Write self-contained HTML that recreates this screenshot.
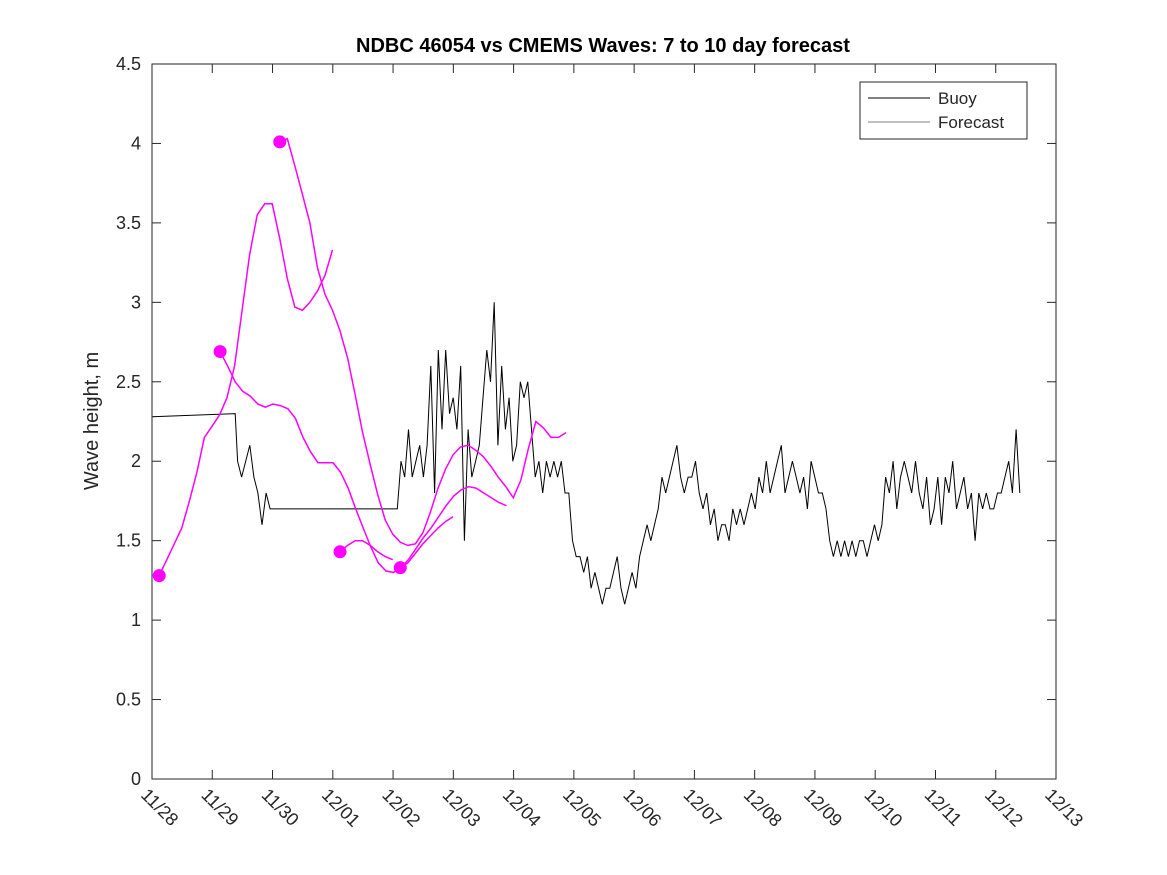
<!DOCTYPE html>
<html><head><meta charset="utf-8"><style>
body{margin:0;background:#fff;}
svg{display:block;font-family:"Liberation Sans","DejaVu Sans",sans-serif;}
</style></head><body>
<svg id="chart" width="1167" height="875">
<rect x="0" y="0" width="1167" height="875" fill="#fff"/>
<text x="603" y="52" text-anchor="middle" font-size="20" font-weight="bold">NDBC 46054 vs CMEMS Waves: 7 to 10 day forecast</text>
<text transform="translate(98,421) rotate(-90)" text-anchor="middle" font-size="20" fill="#262626">Wave height, m</text>
<g id="grid"></g>
<g id="series"></g>
<rect x="152" y="64" width="904" height="715" fill="none" stroke="#262626" stroke-width="1"/>
<g>
<rect x="860" y="82" width="167" height="57" fill="#fff" stroke="#262626"/>
<line x1="868" y1="98" x2="930" y2="98" stroke="#000"/>
<text x="938" y="104" font-size="17" fill="#262626">Buoy</text>
<line x1="868" y1="122" x2="930" y2="122" stroke="#000" stroke-width="0.5"/>
<text x="938" y="128" font-size="17" fill="#262626">Forecast</text>
</g>
</svg>
<script>
const xTickLabels=["11/28","11/29","11/30","12/01","12/02","12/03","12/04","12/05","12/06","12/07","12/08","12/09","12/10","12/11","12/12","12/13"];
const yTicks=[0,0.5,1,1.5,2,2.5,3,3.5,4,4.5];
const yTickLabels=["0","0.5","1","1.5","2","2.5","3","3.5","4","4.5"];
// buoy: explicit points (day, m)
const buoyHeadT=[0,1.38];
const buoyHeadH=[2.28,2.3];
const buoySeg2=[2.0,1.9,2.0,2.1,1.9,1.8,1.6,1.8,1.7];
const buoySeg2Start=1.42, buoySeg2End=1.96;
const buoySeg3=[1.7,2.0,1.9,2.2,1.9,2.0,2.1,
1.9,2.1,2.6,1.8,2.7,2.2,2.7,2.3,2.4,2.2,2.6,
1.5,2.2,1.9,2.0,2.1,2.4,2.7,2.5,
3.0,2.1,2.6,2.2,2.4,2.0,2.1,2.5,2.4,2.5,2.2,
1.9,2.0,1.8,2.0,1.9,2.0,1.9,2.0,1.8,
1.8,1.5,1.4,1.4,1.3,1.4,1.2,1.3,1.2,
1.1,1.2,1.2,1.3,1.4,1.2,1.1,1.2,
1.3,1.2,1.4,1.5,1.6,1.5,1.6,1.7,1.9,
1.8,1.9,2.0,2.1,1.9,1.8,1.9,1.9,2.0,
1.8,1.7,1.8,1.6,1.7,1.5,1.6,1.6,1.5,1.7,1.6,
1.7,1.6,1.7,1.8,1.7,1.9,1.8,2.0,1.8,1.9,2.0,
2.1,1.8,1.9,2.0,1.9,1.8,1.9,1.7,2.0,1.9,1.8,
1.8,1.7,1.5,1.4,1.5,1.4,1.5,1.4,1.5,1.4,1.5,
1.5,1.4,1.5,1.6,1.5,1.6,1.9,1.8,2.0,1.7,1.9,
2.0,1.9,1.8,2.0,1.8,1.7,1.9,1.6,1.7,1.9,1.6,
1.9,1.8,2.0,1.7,1.8,1.9,1.7,1.8,1.5,1.8,1.7,
1.8,1.7,1.7,1.8,1.8,1.9,2.0,1.8,2.2,1.8];
const buoySeg3Start=4.07, buoySeg3End=14.4;
// forecasts: start day, step 0.125 day
const fcStarts=[0.12,1.13,2.12,3.12,4.12];
const fcA=[1.28,1.38,1.48,1.58,1.75,1.93,2.15,2.22,2.29,2.4,2.6,2.95,3.3,3.55,3.62,3.62,3.4,3.15,2.97,2.95,3.0,3.07,3.17,3.33];
const fcB=[2.69,2.6,2.5,2.44,2.41,2.36,2.34,2.36,2.35,2.33,2.27,2.15,2.06,1.99,1.99,1.99,1.93,1.83,1.7,1.58,1.46,1.36,1.31,1.3,1.33,1.38,1.45,1.52,1.58,1.65,1.72,1.78,1.82,1.84,1.83,1.8,1.77,1.74,1.72];
const fcC=[4.01,4.03,3.86,3.68,3.5,3.22,3.05,2.95,2.82,2.65,2.42,2.18,1.98,1.79,1.63,1.54,1.49,1.47,1.48,1.55,1.68,1.83,1.95,2.04,2.09,2.1,2.07,2.03,1.97,1.9,1.84,1.77,1.88,2.08,2.25,2.21,2.15,2.15,2.18];
const fcD=[1.43,1.47,1.5,1.5,1.47,1.43,1.4,1.38];
const fcE=[1.33,1.36,1.42,1.48,1.53,1.58,1.62,1.65];
const x=d=>152+d*(904/15);
const y=v=>779-v*(715/4.5);
const NS="http://www.w3.org/2000/svg";
const grid=document.getElementById('grid'), ser=document.getElementById('series');
function mk(tag,attrs,parent){const e=document.createElementNS(NS,tag);for(const k in attrs)e.setAttribute(k,attrs[k]);parent.appendChild(e);return e;}
yTicks.forEach((v,i)=>{
 const t=mk('line',{x1:152,x2:161,y1:y(v),y2:y(v),stroke:'#262626'},grid);
 
 
 const t2=mk('line',{x1:1047,x2:1056,y1:y(v),y2:y(v),stroke:'#262626'},grid);
 
 
 const l=mk('text',{x:141,y:y(v)+6,'text-anchor':'end','font-size':18,fill:'#262626'},grid);
 l.textContent=yTickLabels[i];
 
 
});
xTickLabels.forEach((s,i)=>{
 const xx=x(i);
 const t=mk('line',{x1:xx,x2:xx,y1:779,y2:770,stroke:'#262626'},grid);
 
 
 const t2=mk('line',{x1:xx,x2:xx,y1:64,y2:73,stroke:'#262626'},grid);
 
 
 const l=mk('text',{transform:`translate(${xx-12},${796}) rotate(45)`,'font-size':18,fill:'#262626'},grid);
 l.textContent=s;
 
 
});
// buoy line
let pts=[];
buoyHeadT.forEach((t,i)=>pts.push([t,buoyHeadH[i]]));
buoySeg2.forEach((v,i)=>pts.push([buoySeg2Start+i*(buoySeg2End-buoySeg2Start)/(buoySeg2.length-1),v]));
buoySeg3.forEach((v,i)=>pts.push([buoySeg3Start+i*(buoySeg3End-buoySeg3Start)/(buoySeg3.length-1),v]));
const bp=mk('polyline',{points:pts.map(p=>x(p[0]).toFixed(1)+','+y(p[1]).toFixed(1)).join(' '),fill:'none',stroke:'#000','stroke-width':1},ser);


[fcA,fcB,fcC,fcD,fcE].forEach((arr,k)=>{
 const s=fcStarts[k];
 const pl=mk('polyline',{points:arr.map((v,i)=>x(s+i*0.125).toFixed(1)+','+y(v).toFixed(1)).join(' '),fill:'none',stroke:'#ff00ff','stroke-width':1.5},ser);
 
 
 const c=mk('circle',{cx:x(s),cy:y(arr[0]),r:6.5,fill:'#ff00ff'},ser);
 
 
});
</script>
</body></html>
